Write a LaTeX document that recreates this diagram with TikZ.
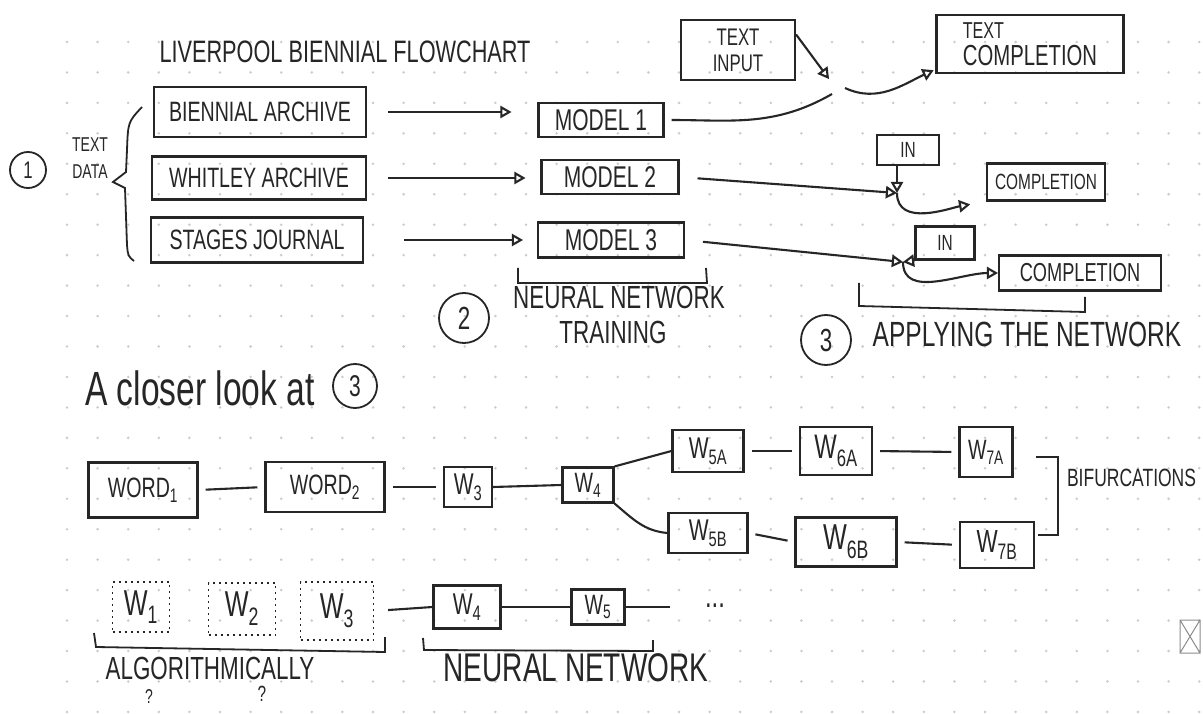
\documentclass[tikz,border=0pt]{standalone}
\usepackage{fontspec}
\setmainfont{Liberation Sans}[FakeStretch=0.7]
\usetikzlibrary{arrows,positioning}
\newcommand{\fsz}[2]{\fontsize{#1}{#2}\selectfont}

\begin{document}
\begin{tikzpicture}[x=1pt, y=-1pt, line width=2.1pt, draw=black!85, text=black!85, inner sep=0pt,
    box/.style={draw, rectangle, font=\fsz{28}{32}},
    dbox/.style={box, line width=1.3pt, dash pattern=on 2pt off 4pt},
    num/.style={draw, circle, line width=1.8pt},
    arr/.style={-open triangle 60},
    link/.style={shorten <=7pt, shorten >=7pt},
    brk/.style={line width=1.8pt}]
    \useasboundingbox (0,0) rectangle (1203,714);
    \fill[white] (0,0) rectangle (1203,714);
    % dot paper
    \foreach \i in {0,...,37}
        \foreach \j in {0,...,22}
            \fill[black!20] (67+30.6*\i, 42+30.45*\j) circle (1.4pt);

    % (1) text data
    \node[font=\fsz{31}{36}] (title) at (345,52) {LIVERPOOL BIENNIAL FLOWCHART};
    \node[num, minimum size=36pt, font=\fsz{24}{24}] (one) at (28,170) {1};
    \node[font=\fsz{20}{27}, align=center] (data) at (90,158) {TEXT\\DATA};
    \draw[brk] (142,107) .. controls (128,122) .. (127,150) -- (126,172) -- (113,182) -- (125,188) -- (127,245) .. controls (128,256) .. (134,261);
    \node[box, minimum width=212pt, minimum height=50pt] (arch1) at (260,112) {BIENNIAL ARCHIVE};
    \node[box, minimum width=214pt, minimum height=43pt] (arch2) at (259,178) {WHITLEY ARCHIVE};
    \node[box, minimum width=212pt, minimum height=45pt] (arch3) at (257,240) {STAGES JOURNAL};

    % (2) models
    \node[box, minimum width=125pt, minimum height=34pt, font=\fsz{30}{30}] (model1) at (601,120) {MODEL 1};
    \node[box, minimum width=137pt, minimum height=34pt, font=\fsz{30}{30}] (model2) at (610,177) {MODEL 2};
    \node[box, minimum width=146pt, minimum height=35pt, font=\fsz{30}{30}] (model3) at (611,240) {MODEL 3};
    \draw[arr, shorten <=21pt, shorten >=26pt] (arch1) -- (arch1 -| model1.west);
    \draw[arr, shorten <=21pt, shorten >=15pt] (arch2) -- (arch2 -| model2.west);
    \draw[arr, shorten <=40pt, shorten >=14pt] (arch3) -- (arch3 -| model3.west);
    \draw[brk] (518,268) -- (518,283) -- (707,283) -- (706,268);
    \node[num, minimum size=50pt, font=\fsz{32}{32}] (two) at (464,318) {2};
    \node[font=\fsz{32}{34}] (nn) at (619,297) {NEURAL NETWORK};
    \node[font=\fsz{32}{34}, below=11pt of nn, xshift=-6pt] (train) {TRAINING};

    % (3) completions
    \node[box, minimum width=114pt, minimum height=60pt, align=center, font=\fsz{24}{26}] (tinput) at (738,50) {TEXT\\INPUT};
    \node[box, minimum width=187pt, minimum height=58pt, align=left, font=\fsz{29}{27}] (tcompl) at (1030,44) {{\fsz{23}{27}TEXT}\\COMPLETION};
    \coordinate (m1in) at (829,79);
    \coordinate (m1mod) at (832,94);
    \coordinate (m1out) at (845,88);
    \draw[arr] (tinput.15) -- (m1in);
    \draw[shorten <=7pt] (model1.east) to[out=0, in=210] (m1mod);
    \draw[arr, shorten >=2pt] (m1out) to[out=-25, in=205] (tcompl.195);

    \node[box, minimum width=62pt, minimum height=30pt, font=\fsz{22}{22}] (in2) at (908,150) {IN};
    \node[box, minimum width=118pt, minimum height=37pt, font=\fsz{22}{22}] (compl2) at (1046,182) {COMPLETION};
    \coordinate (m2) at (897,193);
    \draw[arr, shorten <=18pt] (model2.east) -- (m2);
    \draw[arr] (in2.south -| m2) -- (m2);
    \draw[arr, shorten >=16pt] (m2) to[out=-90, in=190] (compl2.south west);

    \node[box, minimum width=59pt, minimum height=33pt, font=\fsz{22}{22}] (in3) at (945,243) {IN};
    \node[box, minimum width=162pt, minimum height=35pt, font=\fsz{26}{26}] (compl3) at (1080,273) {COMPLETION};
    \coordinate (m3) at (903,262);
    \draw[arr, shorten <=18pt] (model3.east) -- (m3);
    \draw[arr] (in3.south west) -- (m3);
    \draw[arr] (m3) to[out=-90, in=180] (compl3.west);
    \draw[brk] (859,283) -- (859,306) -- (1085,312) -- (1085,297);
    \node[num, minimum size=50pt, font=\fsz{32}{32}] (three) at (826,340) {3};
    \node[font=\fsz{35}{36}] (apply) at (1027,334) {APPLYING THE NETWORK};

    % a closer look
    \node[font=\fsz{48}{48}] (closer) at (200,388) {A closer look at};
    \node[num, minimum size=44pt, font=\fsz{30}{30}] (threeb) at (355,386) {3};
    \node[box, minimum width=109pt, minimum height=55pt] (word1) at (143,490) {WORD\textsubscript{1}};
    \node[box, minimum width=119pt, minimum height=50pt] (word2) at (325,487) {WORD\textsubscript{2}};
    \node[box, minimum width=48pt, minimum height=40pt, font=\fsz{30}{30}] (w3) at (468,487) {W\textsubscript{3}};
    \node[box, minimum width=51pt, minimum height=35pt, font=\fsz{28}{28}] (w4) at (588,485) {W\textsubscript{4}};
    \node[box, minimum width=71pt, minimum height=42pt, font=\fsz{30}{30}] (w5a) at (708,451) {W\textsubscript{5A}};
    \node[box, minimum width=72pt, minimum height=48pt, font=\fsz{34}{34}] (w6a) at (836,451) {W\textsubscript{6A}};
    \node[box, minimum width=53pt, minimum height=50pt, font=\fsz{28}{28}] (w7a) at (986,452) {W\textsubscript{7A}};
    \node[box, minimum width=79pt, minimum height=40pt, font=\fsz{30}{30}] (w5b) at (708,533) {W\textsubscript{5B}};
    \node[box, minimum width=101pt, minimum height=49pt, font=\fsz{36}{36}] (w6b) at (846,542) {W\textsubscript{6B}};
    \node[box, minimum width=74pt, minimum height=46pt, font=\fsz{32}{32}] (w7b) at (997,545) {W\textsubscript{7B}};
    \draw[link] (word1.east) -- (word2.west);
    \draw[link] (word2.east) -- (w3.west);
    \draw (w3.east) -- (w4.west);
    \draw (w4.north east) -- (w5a.west);
    \draw (w4.south east) to[out=-40, in=175] (w5b.west);
    \draw[link] (w5a.east) -- (w6a.west);
    \draw[link] (w6a.east) -- (w7a.west);
    \draw[link] (w5b.east) -- (w6b.west);
    \draw[link] (w6b.east) -- (w7b.west);
    \draw[brk] (1036,457) -- (1058,457) -- (1058,535) -- (1038,535);
    \node[font=\fsz{25}{25}, anchor=west] (bif) at (1066,478) {BIFURCATIONS};

    % algorithmic part and network part
    \node[dbox, minimum width=57pt, minimum height=50pt, font=\fsz{36}{36}] (dw1) at (141,607) {W\textsubscript{1}};
    \node[dbox, minimum width=67pt, minimum height=52pt, font=\fsz{36}{36}] (dw2) at (242,609) {W\textsubscript{2}};
    \node[dbox, minimum width=73pt, minimum height=58pt, font=\fsz{36}{36}] (dw3) at (337,611) {W\textsubscript{3}};
    \node[box, minimum width=67pt, minimum height=43pt, font=\fsz{30}{30}] (bw4) at (467,607) {W\textsubscript{4}};
    \node[box, minimum width=53pt, minimum height=35pt, font=\fsz{28}{28}] (bw5) at (598,607) {W\textsubscript{5}};
    \coordinate (tail) at (670,607);
    \node[font=\fsz{34}{34}] (more) at (715,606) {...};
    \draw[shorten <=14pt] (dw3.east) -- (bw4.west);
    \draw (bw4.east) -- (bw5.west);
    \draw (bw5.east) -- (tail);
    \draw[brk] (94,633) -- (96,647) -- (385,652) -- (385,637);
    \node[font=\fsz{32}{32}] (alg) at (210,668) {ALGORITHMICALLY};
    \node[font=\fsz{20}{20}] (q1) at (149,697) {?};
    \node[font=\fsz{22}{22}] (q2) at (262,694) {?};
    \draw[brk] (423,638) -- (424,650) -- (653,651) -- (653,640);
    \node[font=\fsz{40}{40}] (nn2) at (576,668) {NEURAL NETWORK};

    % corner mark
    \draw[black!45, line width=1pt] (1180,620) rectangle (1200,653) (1180,620) -- (1200,653) (1200,620) -- (1180,653);
\end{tikzpicture}
\end{document}
